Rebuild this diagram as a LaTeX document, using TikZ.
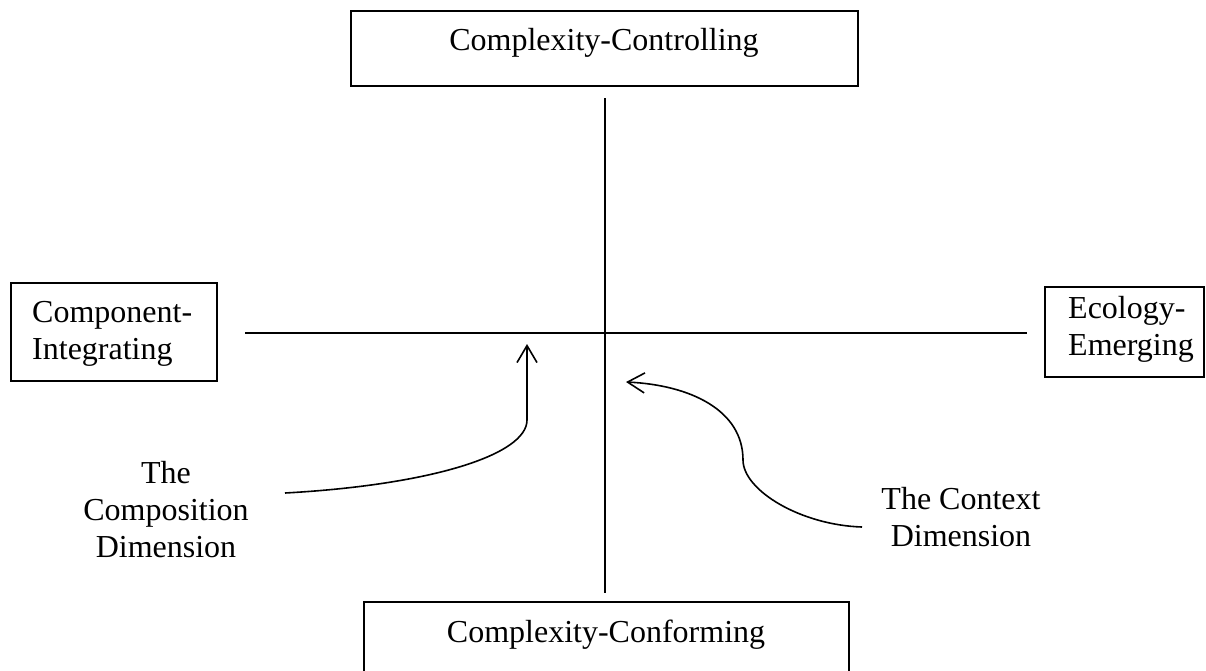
\documentclass[tikz,border=0pt]{standalone}
\usepackage{fontspec}
\setmainfont{Liberation Serif}
\usetikzlibrary{arrows.meta}
\begin{document}
\begin{tikzpicture}[x=1pt,y=-1pt,
  box/.style={draw, line width=1.8pt, inner sep=0pt},
  txt/.style={font=\fontsize{32}{36.8}\selectfont, inner sep=0pt},
  lbl/.style={font=\fontsize{32}{36.8}\selectfont, align=center, inner sep=0pt},
  axis/.style={line width=1.8pt},
  curvearrow/.style={line width=1.6pt, -{Straight Barb[length=17pt,width=20pt]}}]
\clip (0,0) rectangle (1206,670);
% boxes
\node[box, minimum width=507pt, minimum height=75pt] (topbox) at (604.5,48.5) {};
\node[box, minimum width=485pt, minimum height=80pt] (botbox) at (606.5,642) {};
\node[box, minimum width=206pt, minimum height=98pt] (leftbox) at (114,332) {};
\node[box, minimum width=159pt, minimum height=90pt] (rightbox) at (1124.5,332) {};
% box texts
\node[txt, anchor=base] (toptxt) at (604,50) {Complexity-Controlling};
\node[txt, anchor=base] (bottxt) at (606,642) {Complexity-Conforming};
\node[txt, anchor=base west, align=left] (lefttxt) at (32,359) {Component-\\Integrating};
\node[txt, anchor=base west, align=left] (righttxt) at (1068,355) {Ecology-\\Emerging};
% axes
\coordinate (vtop) at (605,98);
\coordinate (vbot) at (605,593);
\coordinate (hleft) at (245,333);
\coordinate (hright) at (1027,333);
\draw[axis] (vtop) -- (vbot);
\draw[axis] (hleft) -- (hright);
% labels
\node[lbl, anchor=base] (complbl) at (166,557) {The\\Composition\\Dimension};
\node[lbl, anchor=base] (ctxlbl) at (961,546) {The Context\\Dimension};
% curved arrows
\coordinate (cstart) at (285,493);
\coordinate (cbend) at (527,420);
\coordinate (ctip) at (527,344);
\draw[curvearrow] (cstart) .. controls (430,485) and (527,455) .. (cbend) -- (ctip);
\coordinate (xstart) at (862,527);
\coordinate (xbend) at (743,460);
\coordinate (xtip) at (626,382);
\draw[curvearrow] (xstart) .. controls (800,525) and (743,490) .. (xbend)
  .. controls (743,410) and (690,385) .. (xtip);
\end{tikzpicture}
\end{document}
